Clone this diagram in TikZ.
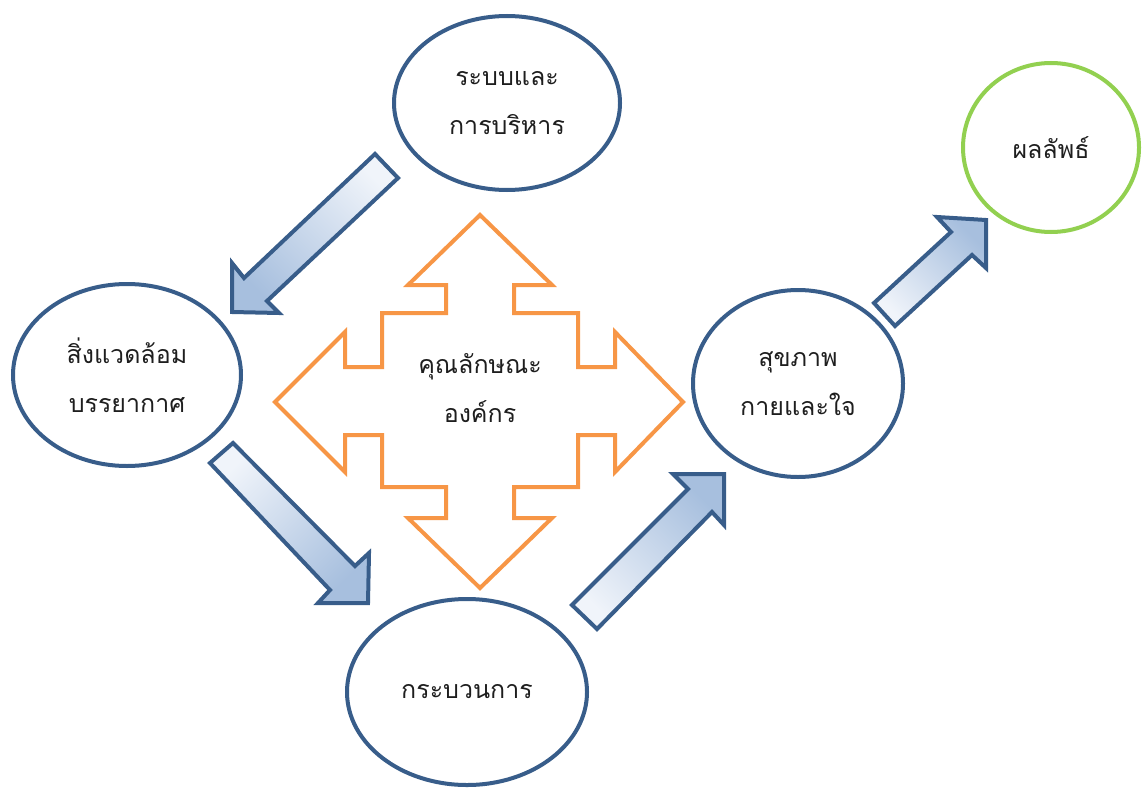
\documentclass[tikz,border=0pt]{standalone}
\usepackage{fontspec}
\newfontfamily\thaifont[Script=Thai]{Loma}
\usetikzlibrary{shapes.geometric}
\definecolor{cblue}{RGB}{56,93,138}
\definecolor{corange}{RGB}{247,150,70}
\definecolor{cgreen}{RGB}{146,208,80}
\definecolor{ahead}{RGB}{167,191,222}
\definecolor{atail}{RGB}{240,244,250}
\definecolor{ctext}{RGB}{30,30,30}
\tikzset{
  txt/.style={font=\thaifont\fontsize{12.5}{24.5}\selectfont, align=center, text=ctext},
  circ/.style={ellipse, draw=cblue, line width=2pt, inner sep=0pt, txt},
  gcirc/.style={ellipse, draw=cgreen, line width=2pt, inner sep=0pt, txt},
  barrow/.style={draw=cblue, line width=2pt, line join=miter, top color=atail, bottom color=ahead},
  cross/.style={draw=corange, line width=2pt, line join=miter, fill=white},
}
\begin{document}
\begin{tikzpicture}[x=0.5pt,y=0.5pt]
\useasboundingbox (0,0) rectangle (1144,-792);

% ellipses
\node[circ, minimum width=113pt, minimum height=87pt] (sys) at (507,-103) {ระบบและ\\การบริหาร};
\node[circ, minimum width=114pt, minimum height=91pt] (env) at (127,-375) {สิ่งแวดล้อม\\บรรยากาศ};
\node[circ, minimum width=120pt, minimum height=93pt] (proc) at (467,-692) {กระบวนการ};
\node[circ, minimum width=105pt, minimum height=93.5pt] (health) at (798,-383.5) {สุขภาพ\\กายและใจ};
\node[gcirc, minimum width=88pt, minimum height=84.5pt] (res) at (1051,-147.5) {ผลลัพธ์};

% block arrows
\path[barrow, shading angle=315] (375,-154) -- (244,-278) -- (232,-263) -- (232,-312) -- (279,-313) -- (267,-301) -- (398,-178) -- cycle;
\path[barrow, shading angle=45] (233,-443) -- (355,-566) -- (369,-553) -- (368,-603) -- (318,-603) -- (330,-590) -- (210,-463) -- cycle;
\path[barrow, shading angle=135] (572,-605) -- (688,-489) -- (673,-474) -- (724,-474) -- (724,-525) -- (712,-512) -- (597,-629) -- cycle;
\path[barrow, shading angle=135] (874,-303) -- (951,-232) -- (937,-217) -- (986,-220) -- (986,-268) -- (972,-255) -- (895,-326) -- cycle;

% four-way arrow
\draw[cross] (480,-215) -- (552,-285) -- (514,-285) -- (514,-313) -- (578,-313) -- (578,-367)
  -- (615,-367) -- (615,-332) -- (683,-402) -- (615,-472) -- (615,-435) -- (578,-435)
  -- (578,-487) -- (514,-487) -- (514,-518) -- (552,-518) -- (480,-588) -- (408,-518)
  -- (446,-518) -- (446,-487) -- (382,-487) -- (382,-435) -- (345,-435) -- (345,-472)
  -- (275,-402) -- (345,-332) -- (345,-367) -- (382,-367) -- (382,-313) -- (446,-313)
  -- (446,-285) -- (408,-285) -- cycle;
\node[txt] (org) at (480,-388) {คุณลักษณะ\\องค์กร};
\end{tikzpicture}
\end{document}
